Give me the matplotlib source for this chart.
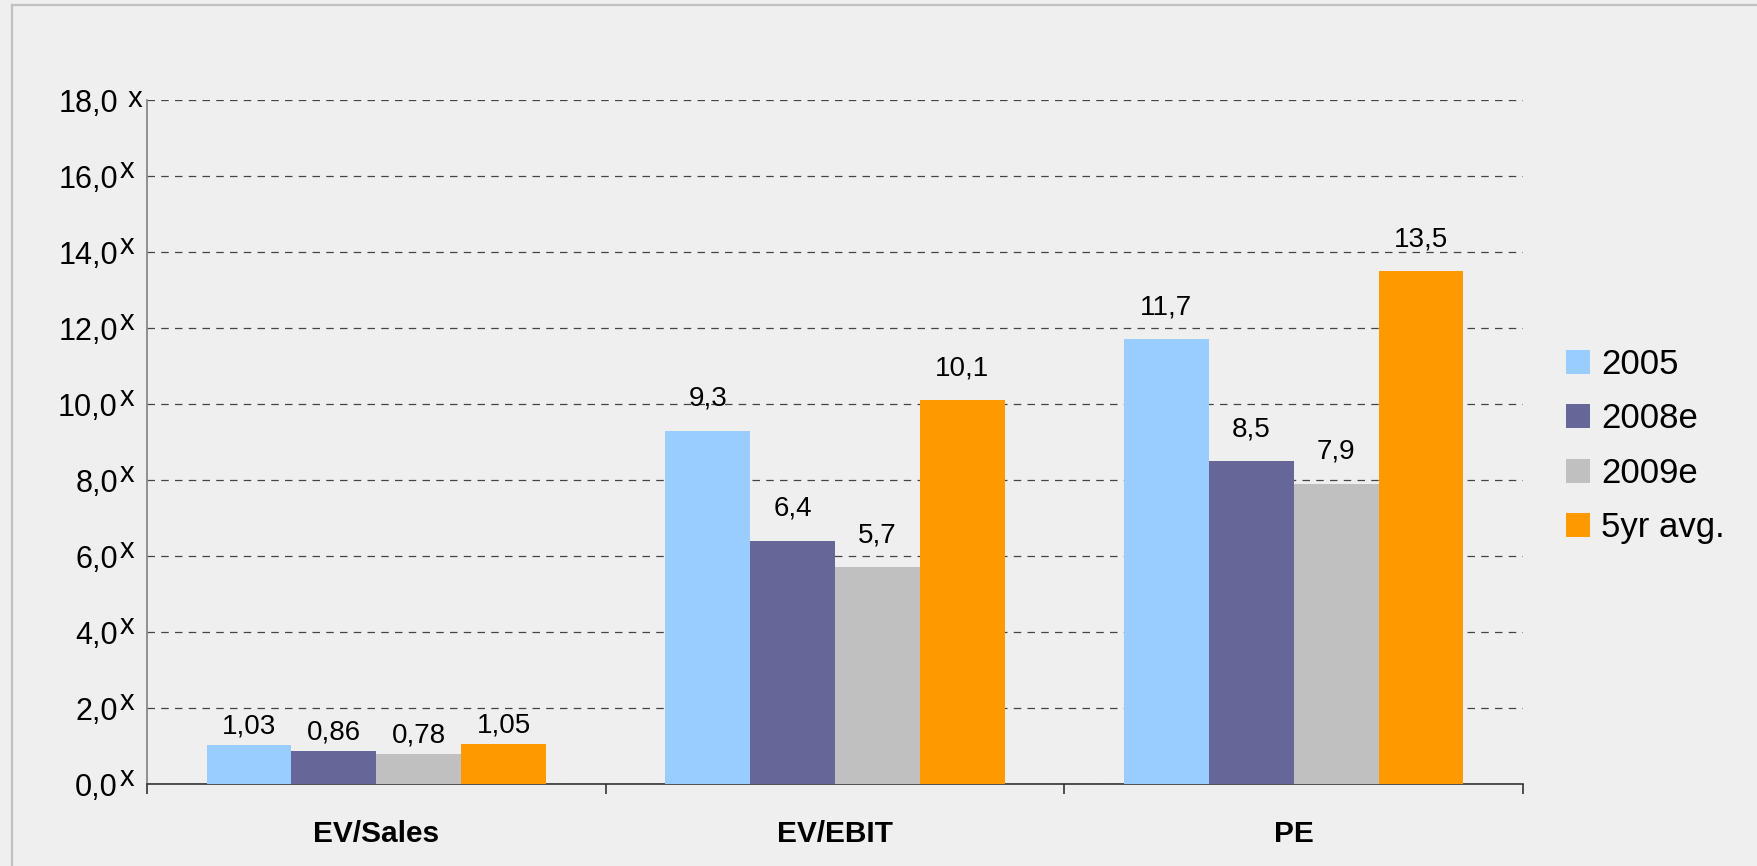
import matplotlib as mpl
mpl.use('Agg')
from matplotlib import pyplot as plt
from matplotlib.patches import Patch
from matplotlib.lines import Line2D
import matplotlib.transforms as mtransforms
import numpy as np

# data
categories = ['EV/Sales', 'EV/EBIT', 'PE']
series     = ['2005', '2008e', '2009e', '5yr avg.']
values = {
    '2005':     [1.03, 9.3, 11.7],
    '2008e':    [0.86, 6.4, 8.5],
    '2009e':    [0.78, 5.7, 7.9],
    '5yr avg.': [1.05, 10.1, 13.5],
}
decimals   = [2, 1, 1]
yticks     = [0, 2, 4, 6, 8, 10, 12, 14, 16, 18]
colors     = ['#99ccff', '#666699', '#c0c0c0', '#ff9900']

plt.rcParams['font.family'] = ['Liberation Sans', 'DejaVu Sans']

bg = '#efefef'
fig = plt.figure(figsize=(17.58, 8.66), dpi=100, facecolor=bg)
ax = fig.add_axes([147/1758, 82/866, (1523-147)/1758, (784-100)/866])
ax.set_facecolor('none')

# frame lines on top/left of the picture
fig.add_artist(Line2D([12/1758, 12/1758], [0, 1-5/866], transform=fig.transFigure,
                      color='#c0c0c0', lw=1.6))
fig.add_artist(Line2D([12/1758, 1], [1-5/866, 1-5/866], transform=fig.transFigure,
                      color='#c0c0c0', lw=1.6))

x = np.arange(len(categories))
w = 0.185
for i, (s, c) in enumerate(zip(series, colors)):
    pos = x + (i - 1.5) * w
    ax.bar(pos, values[s], width=w, color=c, label=s, zorder=3)
    for j, (px, v) in enumerate(zip(pos, values[s])):
        lab = ('{:.%df}' % decimals[j]).format(v).replace('.', ',')
        off = 8.5 if j == 0 else 18
        ax.annotate(lab, (px, v), xytext=(0, off), textcoords='offset points',
                    ha='center', va='baseline', fontsize=20, zorder=4)

ax.set_xlim(-0.5, 2.5)
ax.set_ylim(0, 18)

# y axis
ax.set_yticks(yticks)
ax.set_yticklabels(['%d,0' % t for t in yticks], fontsize=22)
ax.tick_params(axis='y', length=0, pad=21)
trans = mtransforms.blended_transform_factory(ax.transAxes, ax.transData)
for t in yticks:
    lab = ' x' if t == 18 else 'x'
    dy = 1 if t == 18 else 4.5
    ax.annotate(lab, (0, t), xycoords=trans, xytext=(-19.5, dy), textcoords='offset points',
                ha='left', va='center', fontsize=21)
ax.yaxis.grid(True, linestyle=(0, (6, 5)), color='#444444', lw=0.9, zorder=1)

# x axis: ticks at boundaries, labels at centres
ax.set_xticks([-0.5, 0.5, 1.5, 2.5])
ax.set_xticklabels([])
ax.set_xticks(x, minor=True)
ax.set_xticklabels(categories, minor=True, fontsize=21.5, fontweight='bold')
ax.tick_params(axis='x', which='major', length=7.5, width=1.2, color='#333333', direction='out')
ax.tick_params(axis='x', which='minor', length=0, pad=26)

for side in ['top', 'right']:
    ax.spines[side].set_visible(False)
ax.spines['left'].set_color('#808080')
ax.spines['left'].set_linewidth(1.2)
ax.spines['bottom'].set_color('#333333')
ax.spines['bottom'].set_linewidth(1.2)

handles = [Patch(facecolor=c, edgecolor='none') for c in colors]
fig.legend(handles, series, loc='center left', bbox_to_anchor=(1566/1758, 1-446/866),
           frameon=False, fontsize=25, handlelength=0.69, handleheight=0.69,
           handletextpad=0.32, labelspacing=0.62, borderpad=0, borderaxespad=0)

plt.savefig('out.png', dpi=100, facecolor=bg)
